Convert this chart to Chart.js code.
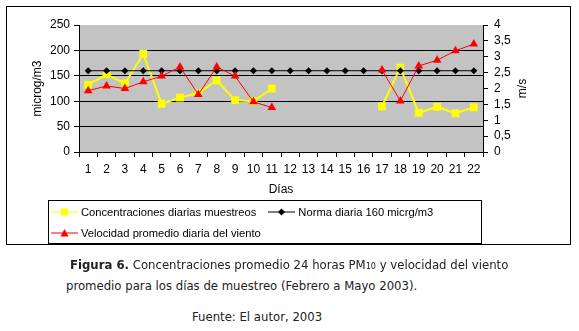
<!DOCTYPE html>
<html>
<head>
<meta charset="utf-8">
<script src="https://cdn.jsdelivr.net/npm/chart.js@4/dist/chart.umd.min.js"></script>
<style>
  html, body { margin: 0; padding: 0; background: #fff; }
  body { width: 579px; height: 331px; position: relative; overflow: hidden; }
  #frame { position: absolute; left: 6px; top: 6px; width: 565px; height: 239px;
           box-sizing: border-box; border: 1px solid #000; }
  #wrap { position: absolute; left: 0; top: 0; width: 579px; height: 200px; }
  #legend { position: absolute; left: 48px; top: 200px; width: 434px; height: 44px;
            box-sizing: border-box; border: 1px solid #000; padding: 1px 0 0 2px;
            display: flex; flex-wrap: wrap; column-gap: 12px;
            font: 11.2px "Liberation Sans", Arial, sans-serif; color: #000; }
  .item { display: flex; align-items: center; height: 20px; white-space: nowrap; }
  .item svg { margin-right: 3px; }
  .cap { position: absolute; font-family: "DejaVu Sans Condensed", "DejaVu Sans", sans-serif;
         font-stretch: condensed; font-size: 13px; color: #222; white-space: nowrap; }
  .cap small { font-size: 9px; }
</style>
</head>
<body>
<div id="wrap"><canvas id="chart" width="579" height="200"></canvas></div>
<div id="frame"></div>
<div id="legend"></div>
<div class="cap" style="left:70px; top:257px;"><b>Figura 6.</b> Concentraciones promedio 24 horas PM<small>10</small> y velocidad del viento</div>
<div class="cap" style="left:66px; top:278px;">promedio para los días de muestreo (Febrero a Mayo 2003).</div>
<div class="cap" style="left:192px; top:309px;">Fuente: El autor, 2003</div>
<script>
// Concentraciones PM10 y velocidad del viento, febrero a mayo 2003

const days = ['1', '2', '3', '4', '5', '6', '7', '8', '9', '10', '11',
  '12', '13', '14', '15', '16', '17', '18', '19', '20', '21', '22'];

// microg/m3
const concentraciones = [132, 153, 135, 193, 95, 107, 116, 141, 102, 100, 125,
  null, null, null, null, null, 90, 166, 77, 89, 76, 88];
const norma = [160, 160, 160, 160, 160, 160, 160, 160, 160, 160, 160,
  160, 160, 160, 160, 160, 160, 160, 160, 160, 160, 160];

// m/s
const velocidad = [1.93, 2.08, 2.0, 2.21, 2.39, 2.68, 1.81, 2.68, 2.39, 1.58, 1.40,
  null, null, null, null, null, 2.58, 1.61, 2.71, 2.89, 3.19, 3.40];

const leftTicks = [0, 50, 100, 150, 200, 250];
const rightTicks = [0, 0.5, 1, 1.5, 2, 2.5, 3, 3.5, 4];

const axisFont = { family: '"Liberation Sans", Arial, sans-serif', size: 12 };
const rightTitle = 'm/s';

const plotBg = {
  id: 'plotBg',
  beforeDraw(c) {
    const { ctx, chartArea: a } = c;
    ctx.save();
    ctx.fillStyle = '#c3c3c3';
    ctx.fillRect(a.left, a.top, a.right - a.left, a.bottom - a.top);
    ctx.restore();
  },
  afterDraw(c) {
    // excel puts the secondary title reading bottom-to-top
    const { ctx, chartArea: a } = c;
    ctx.save();
    ctx.font = '12px ' + axisFont.family;
    ctx.fillStyle = '#000';
    ctx.textAlign = 'center';
    ctx.textBaseline = 'middle';
    ctx.translate(523, (a.top + a.bottom) / 2);
    ctx.rotate(-Math.PI / 2);
    ctx.fillText(rightTitle, 0, 0);
    ctx.restore();
  },
};

const chart = new Chart(document.getElementById('chart'), {
  type: 'line',
  data: {
    labels: days,
    datasets: [
      {
        label: 'Concentraciones diarias muestreos',
        data: concentraciones,
        yAxisID: 'y',
        borderColor: '#ffff00',
        backgroundColor: '#ffff00',
        borderWidth: 2,
        pointStyle: 'rect',
        pointRadius: 5.5,
        pointBorderWidth: 0,
        order: 3,
      },
      {
        label: 'Norma diaria 160 micrg/m3',
        data: norma,
        yAxisID: 'y',
        borderColor: '#000',
        backgroundColor: '#000',
        borderWidth: 1,
        pointStyle: 'rectRot',
        pointRadius: 3.5,
        pointBorderWidth: 0,
        order: 2,
      },
      {
        label: 'Velocidad promedio diaria del viento',
        data: velocidad,
        yAxisID: 'y1',
        borderColor: '#ff0000',
        backgroundColor: '#ff0000',
        borderWidth: 1,
        pointStyle: 'triangle',
        pointRadius: 5,
        pointBorderWidth: 0,
        order: 1,
      },
    ],
  },
  options: {
    responsive: false,
    animation: false,
    spanGaps: false,
    layout: { padding: { left: 6, right: 9, top: 25, bottom: 0 } },
    plugins: { legend: { display: false }, tooltip: { enabled: false } },
    scales: {
      x: {
        offset: true,
        grid: { offset: true, drawOnChartArea: false, color: '#000', tickLength: 5 },
        border: { color: '#000' },
        ticks: { color: '#000', font: axisFont, padding: 5, maxRotation: 0, autoSkip: false },
        title: { display: true, text: 'Días', color: '#000', font: axisFont, padding: { top: 0, bottom: 3 } },
        afterFit: s => { s.height = 48; },
      },
      y: {
        position: 'left',
        min: 0, max: 250,
        afterBuildTicks: s => { s.ticks = leftTicks.map(v => ({ value: v })); },
        grid: {
          color: ctx => (ctx.tick && ctx.tick.value > 0 && ctx.tick.value < 250) ? '#000' : 'rgba(0,0,0,0)',
          tickColor: '#000', tickLength: 5,
        },
        border: { color: '#000' },
        ticks: { color: '#000', font: axisFont, padding: 4, autoSkip: false },
        title: { display: true, text: 'microg/m3', color: '#000', font: axisFont, padding: { top: 24, bottom: 0 } },
        afterFit: s => { s.width = 73; },
      },
      y1: {
        position: 'right',
        min: 0, max: 4,
        afterBuildTicks: s => { s.ticks = rightTicks.map(v => ({ value: v })); },
        grid: { drawOnChartArea: false, color: '#000', tickLength: 5 },
        border: { color: '#000' },
        ticks: { color: '#000', font: axisFont, padding: 6, autoSkip: false,
                 callback: v => String(v).replace('.', ',') },
        afterFit: s => { s.width = 87; },
      },
    },
  },
  plugins: [plotBg],
});

// legend box, built from the datasets
function marker(ds) {
  const c = ds.borderColor;
  let shape = '';
  if (ds.pointStyle === 'rect') shape = `<rect x="10" y="1.5" width="7" height="7" fill="${c}"/>`;
  if (ds.pointStyle === 'rectRot') shape = `<polygon points="13.5,1.5 17,5 13.5,8.5 10,5" fill="${c}"/>`;
  if (ds.pointStyle === 'triangle') shape = `<polygon points="13.5,1 17.5,8.5 9.5,8.5" fill="${c}"/>`;
  return `<svg width="27" height="10"><line x1="0" y1="5" x2="27" y2="5" stroke="${c}" stroke-width="1"/>${shape}</svg>`;
}

const legend = document.getElementById('legend');
chart.data.datasets.forEach(ds => {
  const el = document.createElement('div');
  el.className = 'item';
  el.innerHTML = marker(ds) + `<span>${ds.label}</span>`;
  legend.appendChild(el);
});
</script>
</body>
</html>
